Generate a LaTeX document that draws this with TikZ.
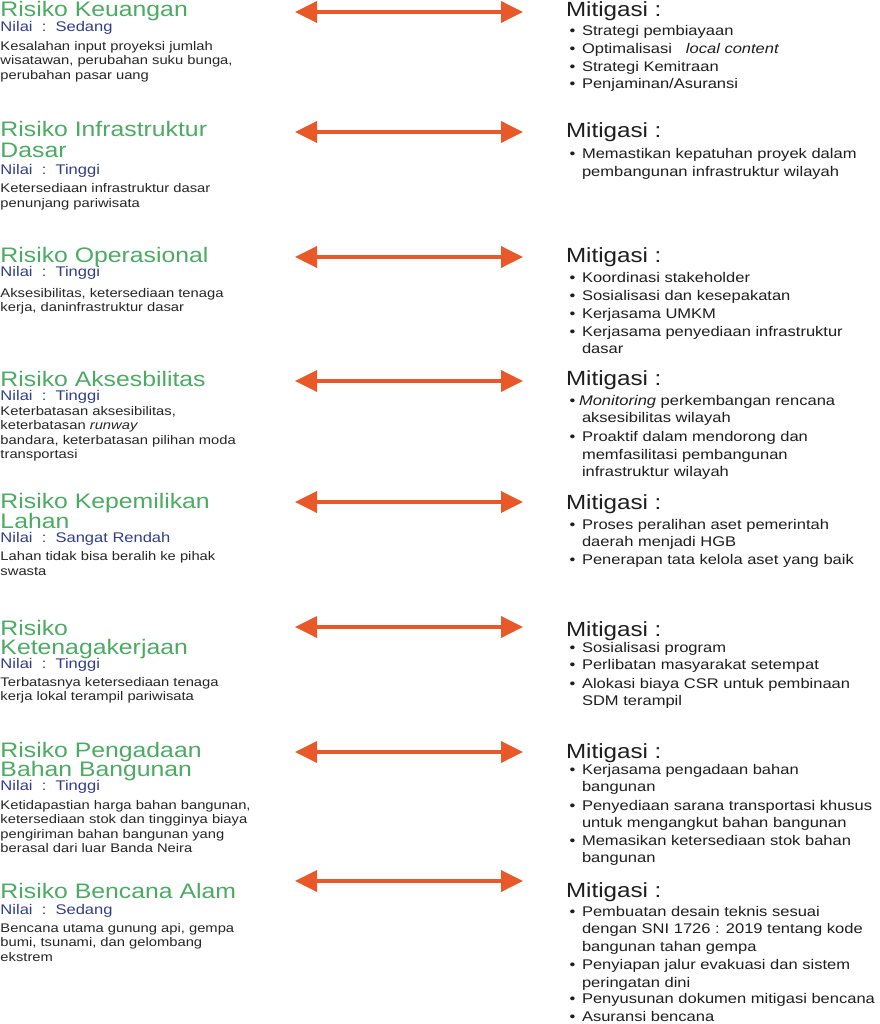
\documentclass[tikz,border=0pt]{standalone}
\usepackage{fontspec}
\setmainfont{Liberation Sans}[FakeStretch=1.18]
\usetikzlibrary{arrows.meta}
\definecolor{rgreen}{RGB}{77,170,100}
\definecolor{rblue}{RGB}{50,62,140}
\definecolor{dtext}{RGB}{38,38,38}
\definecolor{mtext}{RGB}{30,30,30}
\definecolor{rorange}{RGB}{232,88,40}
\newcounter{rln}
\newcommand{\rTxt}[4]{\stepcounter{rln}\edef\lname{t\arabic{rln}}\node[#3] (\lname) at (#1,#2) {#4};}
\newcommand{\rTtl}[2]{\rTxt{0.5}{#1}{ttl}{#2}}
\newcommand{\rNil}[2]{\rTxt{0.5}{#1}{nil}{Nilai~~:~~#2}}
\newcommand{\rDsc}[2]{\rTxt{0.5}{#1}{dsc}{#2}}
\newcommand{\rMit}[1]{\rTxt{566}{#1}{mit}{Mitigasi :}}
\newcommand{\rBi}[2]{\rTxt{569.5}{#1}{itm}{•}\rTxt{582}{#1}{itm}{#2}}
\newcommand{\rCi}[2]{\rTxt{582}{#1}{itm}{#2}}
\newcommand{\rArr}[2]{\coordinate (aL#1) at (295,#2);\coordinate (aR#1) at (523,#2);\draw[biarrow] (aL#1) -- (aR#1);}
\tikzset{
  base/.style={anchor=base west, inner sep=0pt, outer sep=0pt},
  ttl/.style={base, text=rgreen, font=\fontsize{21}{21}\selectfont},
  nil/.style={base, text=rblue, font=\fontsize{14}{14}\selectfont},
  dsc/.style={base, text=dtext, font=\fontsize{12.5}{12.5}\selectfont},
  mit/.style={base, text=mtext, font=\fontsize{20.5}{20.5}\selectfont},
  itm/.style={base, text=mtext, font=\fontsize{14}{14}\selectfont},
  biarrow/.style={draw=rorange, line width=3.6pt,
    {Triangle[length=22pt,width=21pt]}-{Triangle[length=22pt,width=21pt]}, rorange}
}
\begin{document}
\begin{tikzpicture}[x=1pt,y=-1pt]
\useasboundingbox[fill=white] (0,0) rectangle (879,1024);
% Block 1
\rArr{1}{12}
\rTtl{17}{Risiko Keuangan}
\rNil{32}{Sedang}
\rDsc{50.5}{Kesalahan input proyeksi jumlah}
\rDsc{65}{wisatawan, perubahan suku bunga,}
\rDsc{79.5}{perubahan pasar uang}
\rMit{17}
\rBi{36}{Strategi pembiayaan}
\rBi{53.5}{Optimalisasi\hspace{14pt}\textit{local content}}
\rBi{71.5}{Strategi Kemitraan}
\rBi{89}{Penjaminan/Asuransi}
% Block 2
\rArr{2}{132}
\rTtl{137}{Risiko Infrastruktur}
\rTtl{158}{Dasar}
\rNil{175}{Tinggi}
\rDsc{193}{Ketersediaan infrastruktur dasar}
\rDsc{207.5}{penunjang pariwisata}
\rMit{138}
\rBi{159}{Memastikan kepatuhan proyek dalam}
\rCi{177}{pembangunan infrastruktur wilayah}
% Block 3
\rArr{3}{257}
\rTtl{262}{Risiko Operasional}
\rNil{276}{Tinggi}
\rDsc{297}{Aksesibilitas, ketersediaan tenaga}
\rDsc{311.5}{kerja, daninfrastruktur dasar}
\rMit{262}
\rBi{282}{Koordinasi stakeholder}
\rBi{300}{Sosialisasi dan kesepakatan}
\rBi{318}{Kerjasama UMKM}
\rBi{336}{Kerjasama penyediaan infrastruktur}
\rCi{353}{dasar}
% Block 4
\rArr{4}{381}
\rTtl{386}{Risiko Aksesbilitas}
\rNil{400}{Tinggi}
\rDsc{415}{Keterbatasan aksesibilitas,}
\rDsc{429.5}{keterbatasan \textit{runway}}
\rDsc{444}{bandara, keterbatasan pilihan moda}
\rDsc{458.5}{transportasi}
\rMit{385}
\rTxt{569.5}{405.5}{itm}{•}\rTxt{579}{405.5}{itm}{\textit{Monitoring} perkembangan rencana}
\rCi{422.5}{aksesibilitas wilayah}
\rBi{441}{Proaktif dalam mendorong dan}
\rCi{459}{memfasilitasi pembangunan}
\rCi{476.5}{infrastruktur wilayah}
% Block 5
\rArr{5}{502}
\rTtl{508}{Risiko Kepemilikan}
\rTtl{528}{Lahan}
\rNil{542}{Sangat Rendah}
\rDsc{560}{Lahan tidak bisa beralih ke pihak}
\rDsc{575}{swasta}
\rMit{509}
\rBi{529}{Proses peralihan aset pemerintah}
\rCi{546}{daerah menjadi HGB}
\rBi{564}{Penerapan tata kelola aset yang baik}
% Block 6
\rArr{6}{627}
\rTtl{635}{Risiko}
\rTtl{654}{Ketenagakerjaan}
\rNil{668}{Tinggi}
\rDsc{686}{Terbatasnya ketersediaan tenaga}
\rDsc{700.5}{kerja lokal terampil pariwisata}
\rMit{636}
\rBi{652}{Sosialisasi program}
\rBi{669}{Perlibatan masyarakat setempat}
\rBi{688}{Alokasi biaya CSR untuk pembinaan}
\rCi{705}{SDM terampil}
% Block 7
\rArr{7}{752}
\rTtl{757}{Risiko Pengadaan}
\rTtl{776}{Bahan Bangunan}
\rNil{790.5}{Tinggi}
\rDsc{809}{Ketidapastian harga bahan bangunan,}
\rDsc{823.5}{ketersediaan stok dan tingginya biaya}
\rDsc{838}{pengiriman bahan bangunan yang}
\rDsc{852.5}{berasal dari luar Banda Neira}
\rMit{758}
\rBi{774}{Kerjasama pengadaan bahan}
\rCi{791}{bangunan}
\rBi{810}{Penyediaan sarana transportasi khusus}
\rCi{827}{untuk mengangkut bahan bangunan}
\rBi{845}{Memasikan ketersediaan stok bahan}
\rCi{862}{bangunan}
% Block 8
\rArr{8}{881}
\rTtl{898}{Risiko Bencana Alam}
\rNil{914}{Sedang}
\rDsc{932}{Bencana utama gunung api, gempa}
\rDsc{946.5}{bumi, tsunami, dan gelombang}
\rDsc{961}{ekstrem}
\rMit{897}
\rBi{916}{Pembuatan desain teknis sesuai}
\rCi{933}{dengan SNI 1726 : 2019 tentang kode}
\rCi{951}{bangunan tahan gempa}
\rBi{969}{Penyiapan jalur evakuasi dan sistem}
\rCi{987}{peringatan dini}
\rBi{1003.5}{Penyusunan dokumen mitigasi bencana}
\rBi{1021}{Asuransi bencana}
\end{tikzpicture}
\end{document}
